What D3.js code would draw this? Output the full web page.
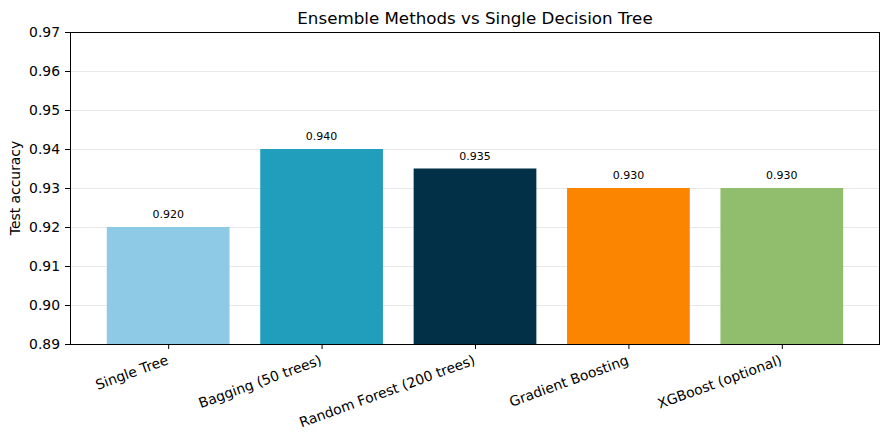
<!DOCTYPE html>
<html lang="en">
  <head>
    <meta charset="utf-8" />
    <title>Ensemble Methods vs Single Decision Tree</title>
    <script src="https://d3js.org/d3.v7.min.js"></script>
    <style type="text/css">
      body {
        margin: 0;
        background: white;
      }
      text {
        font-family: "DejaVu Sans", sans-serif;
        fill: black;
      }
      .tick text {
        font-size: 13.9px;
      }
      .title {
        font-size: 16.7px;
      }
      .ylabel {
        font-size: 13.9px;
      }
      .valueLabel {
        font-size: 11px;
      }
    </style>
  </head>
  <body>
    <script type="text/javascript">
      const w = 889;
      const h = 440;

      // Data
      const models = [
        "Single Tree",
        "Bagging (50 trees)",
        "Random Forest (200 trees)",
        "Gradient Boosting",
        "XGBoost (optional)"
      ];
      const accuracy = [0.92, 0.94, 0.935, 0.93, 0.93];
      const barColors = ["#8ecae6", "#219ebc", "#023047", "#fb8500", "#90be6d"];
      const yTicks = [0.89, 0.9, 0.91, 0.92, 0.93, 0.94, 0.95, 0.96, 0.97];

      // Plot area
      const plotLeft = 70;
      const plotRight = 880;
      const plotTop = 32;
      const plotBottom = 344;
      const barWidth = 0.8;

      // Scales (matplotlib style: bars at 0..n-1, 5% margins)
      const n = models.length;
      const span = n - 1 + barWidth;
      const x = d3
        .scaleLinear()
        .domain([-barWidth / 2 - span * 0.05, n - 1 + barWidth / 2 + span * 0.05])
        .range([plotLeft, plotRight]);
      const y = d3.scaleLinear().domain([0.89, 0.97]).range([plotBottom, plotTop]);

      // Create SVG
      const svg = d3
        .select("body")
        .append("svg")
        .attr("width", w)
        .attr("height", h);

      // Grid lines
      svg
        .append("g")
        .selectAll("line")
        .data(yTicks)
        .enter()
        .append("line")
        .attr("x1", plotLeft)
        .attr("x2", plotRight)
        .attr("y1", (d) => Math.round(y(d)) + 0.5)
        .attr("y2", (d) => Math.round(y(d)) + 0.5)
        .attr("stroke", "#e8e8e8")
        .attr("stroke-width", 1);

      // Bars
      svg
        .append("g")
        .selectAll("rect")
        .data(accuracy)
        .enter()
        .append("rect")
        .attr("x", (d, i) => x(i - barWidth / 2))
        .attr("width", x(barWidth) - x(0))
        .attr("y", (d) => y(d))
        .attr("height", (d) => plotBottom - y(d))
        .attr("fill", (d, i) => barColors[i]);

      // Value labels
      svg
        .append("g")
        .selectAll("text")
        .data(accuracy)
        .enter()
        .append("text")
        .attr("class", "valueLabel")
        .attr("x", (d, i) => x(i))
        .attr("y", (d) => y(d + 0.0015) - 3)
        .attr("text-anchor", "middle")
        .text((d) => d.toFixed(3));

      // Y axis
      const yAxis = svg
        .append("g")
        .attr("transform", `translate(${plotLeft},0)`)
        .call(
          d3
            .axisLeft(y)
            .tickValues(yTicks)
            .tickFormat(d3.format(".2f"))
            .tickSize(5)
            .tickPadding(5)
        );
      yAxis.select(".domain").remove();
      yAxis.selectAll(".tick line").attr("stroke", "black");

      // X axis
      const xAxis = svg
        .append("g")
        .attr("transform", `translate(0,${plotBottom})`)
        .call(
          d3
            .axisBottom(x)
            .tickValues(d3.range(n))
            .tickFormat((i) => models[i])
            .tickSize(5)
        );
      xAxis.select(".domain").remove();
      xAxis.selectAll(".tick line").attr("stroke", "black");
      xAxis
        .selectAll(".tick text")
        .attr("text-anchor", "end")
        .attr("x", 0)
        .attr("y", 0)
        .attr("dy", "0.76em")
        .attr("transform", "translate(-3,10) rotate(-20)");

      // Frame
      svg
        .append("rect")
        .attr("x", plotLeft + 0.5)
        .attr("y", plotTop + 0.5)
        .attr("width", plotRight - plotLeft - 1)
        .attr("height", plotBottom - plotTop)
        .attr("fill", "none")
        .attr("stroke", "black")
        .attr("stroke-width", 1);

      // Title
      svg
        .append("text")
        .attr("class", "title")
        .attr("x", (plotLeft + plotRight) / 2)
        .attr("y", 24)
        .attr("text-anchor", "middle")
        .text("Ensemble Methods vs Single Decision Tree");

      // Y label
      svg
        .append("text")
        .attr("class", "ylabel")
        .attr("transform", `translate(20,${(plotTop + plotBottom) / 2}) rotate(-90)`)
        .attr("text-anchor", "middle")
        .text("Test accuracy");
    </script>
  </body>
</html>
